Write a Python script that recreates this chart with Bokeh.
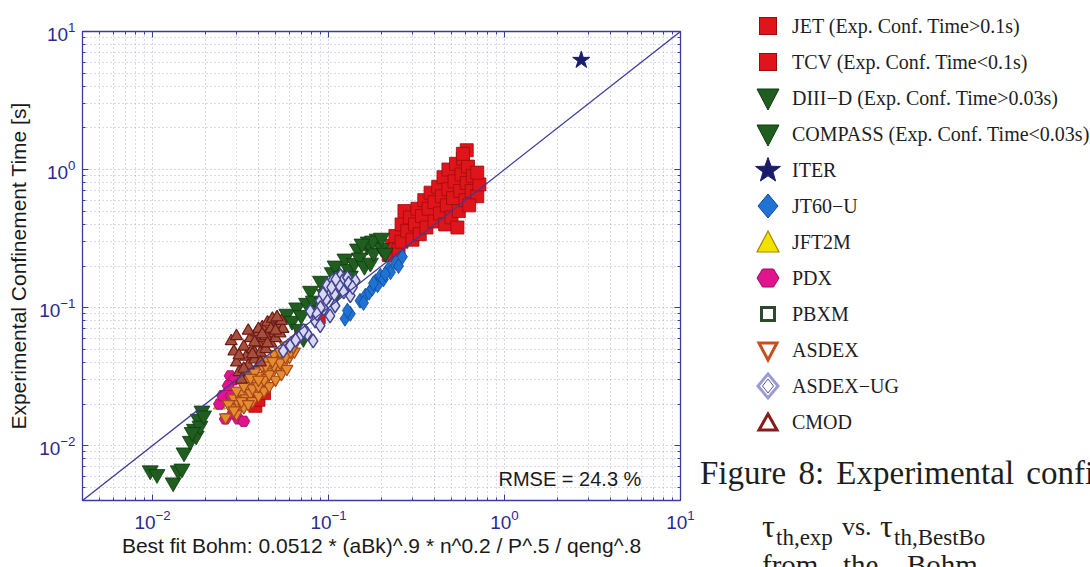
import math
from bokeh.plotting import figure
from bokeh.models import FixedTicker, LogAxis, Label, Range1d, Div
from bokeh.layouts import row
from bokeh.embed import file_html
from bokeh.resources import INLINE

# ---------------- data ----------------
jet_x = [0.22, 0.23, 0.25, 0.24, 0.26, 0.26, 0.27, 0.28, 0.29, 0.30, 0.31, 0.32, 0.33, 0.34, 0.35, 0.36,
         0.37, 0.38, 0.40, 0.40, 0.42, 0.43, 0.44, 0.45, 0.46, 0.47, 0.48, 0.48, 0.50, 0.51, 0.52, 0.53,
         0.54, 0.55, 0.56, 0.57, 0.58, 0.60, 0.61, 0.62, 0.61, 0.65, 0.66, 0.70, 0.72, 0.70, 0.63, 0.58]
jet_y = [0.24, 0.28, 0.26, 0.33, 0.30, 0.40, 0.50, 0.36, 0.45, 0.31, 0.40, 0.52, 0.34, 0.46, 0.60, 0.38,
         0.52, 0.68, 0.42, 0.58, 0.75, 0.48, 0.64, 0.88, 0.40, 0.55, 0.72, 1.00, 0.45, 0.62, 0.82, 1.10,
         0.38, 0.50, 0.70, 0.92, 1.20, 0.60, 0.80, 1.05, 1.38, 0.70, 0.90, 0.64, 0.78, 0.95, 0.55, 1.30]

tcv_x = [0.0384, 0.0400, 0.0430, 0.0520, 0.0700, 0.0880]
tcv_y = [0.0194, 0.0215, 0.0240, 0.0400, 0.0650, 0.0850]

diiid_x = [0.058, 0.062, 0.066, 0.070, 0.072, 0.075, 0.079, 0.082, 0.085, 0.090, 0.095, 0.102, 0.105,
           0.109, 0.115, 0.120, 0.124, 0.130, 0.133, 0.140, 0.146, 0.150, 0.160, 0.166, 0.173, 0.180,
           0.189, 0.200, 0.210, 0.168, 0.178, 0.068, 0.092, 0.112, 0.155, 0.200]
diiid_y = [0.090, 0.080, 0.100, 0.088, 0.060, 0.108, 0.132, 0.112, 0.095, 0.156, 0.125, 0.132, 0.180,
           0.201, 0.150, 0.170, 0.226, 0.190, 0.170, 0.210, 0.267, 0.230, 0.200, 0.280, 0.211, 0.250,
           0.315, 0.270, 0.249, 0.300, 0.305, 0.070, 0.110, 0.128, 0.290, 0.320]

compass_x = [0.0097, 0.0106, 0.0131, 0.0140, 0.0147, 0.0151, 0.0164, 0.0173, 0.0182, 0.0191, 0.0177,
             0.0186, 0.0168, 0.0195]
compass_y = [0.0066, 0.0062, 0.0054, 0.0066, 0.0068, 0.0089, 0.0108, 0.0132, 0.0156, 0.0179, 0.0118,
             0.0139, 0.0125, 0.0165]

iter_x = [2.73]
iter_y = [6.2]

jt60u_x = [0.124, 0.133, 0.128, 0.151, 0.162, 0.158, 0.170, 0.177, 0.185, 0.190, 0.197, 0.205, 0.219,
           0.225, 0.240, 0.250, 0.263, 0.180, 0.210]
jt60u_y = [0.083, 0.090, 0.095, 0.112, 0.122, 0.108, 0.128, 0.137, 0.155, 0.145, 0.170, 0.160, 0.191,
           0.180, 0.211, 0.200, 0.233, 0.150, 0.175]

jft2m_x = [0.0249, 0.0240, 0.0260]
jft2m_y = [0.0218, 0.0195, 0.0210]

pdx_x = [0.0276, 0.0290, 0.0269, 0.0307, 0.0259, 0.0330, 0.0285, 0.0240, 0.0250, 0.0280]
pdx_y = [0.0320, 0.0300, 0.0271, 0.0156, 0.0156, 0.0150, 0.0170, 0.0200, 0.0230, 0.0230]

pbxm_x = [0.036, 0.040, 0.046]
pbxm_y = [0.030, 0.034, 0.040]

asdex_x = [0.026, 0.028, 0.030, 0.029, 0.031, 0.032, 0.033, 0.034, 0.035, 0.036, 0.037, 0.038, 0.039,
           0.040, 0.041, 0.042, 0.043, 0.044, 0.045, 0.046, 0.047, 0.048, 0.050, 0.051, 0.052, 0.054,
           0.055, 0.056, 0.058, 0.059, 0.060, 0.062, 0.064, 0.066, 0.034, 0.038, 0.042, 0.030, 0.045, 0.049,
           0.027, 0.029, 0.032, 0.035, 0.037, 0.040, 0.043, 0.046, 0.049, 0.053, 0.057, 0.061, 0.063,
           0.033, 0.036, 0.040, 0.044, 0.048, 0.053, 0.057]
asdex_y = [0.016, 0.019, 0.017, 0.022, 0.020, 0.024, 0.019, 0.022, 0.027, 0.024, 0.021, 0.029, 0.026,
           0.023, 0.032, 0.028, 0.025, 0.035, 0.031, 0.027, 0.038, 0.034, 0.030, 0.042, 0.037, 0.033,
           0.046, 0.040, 0.036, 0.050, 0.044, 0.054, 0.048, 0.058, 0.030, 0.034, 0.038, 0.025, 0.042, 0.046,
           0.020, 0.018, 0.021, 0.020, 0.026, 0.027, 0.030, 0.033, 0.038, 0.040, 0.044, 0.048, 0.052,
           0.027, 0.031, 0.030, 0.038, 0.041, 0.048, 0.053]

asdexug_x = [0.0757, 0.084, 0.0897, 0.0957, 0.105, 0.117, 0.124, 0.133, 0.109, 0.102, 0.0897, 0.069,
             0.0605, 0.0553, 0.0818, 0.142, 0.0788, 0.100, 0.112, 0.094, 0.120, 0.128, 0.098, 0.108,
             0.090, 0.097, 0.104, 0.115, 0.122, 0.093, 0.086, 0.110, 0.130, 0.137, 0.072, 0.065]
asdexug_y = [0.0646, 0.080, 0.112, 0.132, 0.156, 0.170, 0.144, 0.122, 0.103, 0.087, 0.074, 0.0625,
             0.0529, 0.0486, 0.0574, 0.156, 0.094, 0.120, 0.135, 0.098, 0.155, 0.165, 0.145, 0.125,
             0.100, 0.115, 0.140, 0.145, 0.130, 0.125, 0.090, 0.160, 0.150, 0.140, 0.068, 0.058]

cmod_x = [0.028, 0.029, 0.030, 0.031, 0.032, 0.033, 0.034, 0.035, 0.036, 0.037, 0.038, 0.039, 0.040,
          0.041, 0.042, 0.043, 0.044, 0.045, 0.046, 0.047, 0.048, 0.049, 0.050, 0.052, 0.053, 0.055,
          0.035, 0.030, 0.040, 0.031, 0.033, 0.037, 0.041, 0.044, 0.047, 0.050, 0.054, 0.051, 0.045,
          0.038, 0.042]
cmod_y = [0.057, 0.048, 0.040, 0.034, 0.030, 0.052, 0.044, 0.038, 0.060, 0.050, 0.042, 0.066, 0.055,
          0.047, 0.072, 0.060, 0.050, 0.078, 0.065, 0.055, 0.083, 0.070, 0.060, 0.075, 0.065, 0.070,
          0.068, 0.062, 0.070, 0.045, 0.036, 0.046, 0.040, 0.062, 0.070, 0.068, 0.080, 0.085, 0.055,
          0.056, 0.064]

diag_x = [0.004, 10]
diag_y = [0.004, 10]

major_ticks = [0.01, 0.1, 1, 10]
minor_ticks = [m * d for d in (0.001, 0.01, 0.1, 1) for m in range(2, 10) if m * d >= 0.004]

legend_labels = ["JET (Exp. Conf. Time&gt;0.1s)", "TCV (Exp. Conf. Time&lt;0.1s)",
                 "DIII\u2212D (Exp. Conf. Time&gt;0.03s)", "COMPASS (Exp. Conf. Time&lt;0.03s)",
                 "ITER", "JT60\u2212U", "JFT2M", "PDX", "PBXM", "ASDEX", "ASDEX\u2212UG", "CMOD"]
rmse_text = "RMSE = 24.3 %"

# ---------------- styles ----------------
FRAME = "#3b3b9c"
TICKC = "#2a2a8e"
GRIDC = "#6a6ab4"
RED, RED_E = "#e0151b", "#9a0c0c"
GREEN, GREEN_E = "#1f5e1f", "#0f3a0f"
NAVY = "#1b1b6b"
BLUE, BLUE_E = "#1f72d4", "#0d4a9a"
YEL, YEL_E = "#f2e200", "#a88400"
MAG, MAG_E = "#e0148c", "#a00a60"
PB_E = "#2e4a2e"
ORG, ORG_E = "#e58c30", "#a8481a"
LAV, LAV_E = "#d8d8f2", "#45458f"
MAR, MAR_E = "#a5503c", "#6e1a14"

p = figure(x_axis_type="log", y_axis_type="log",
           x_range=Range1d(0.004, 10), y_range=Range1d(0.004, 10),
           frame_width=598, frame_height=469,
           min_border_left=82, min_border_right=20, min_border_top=31, min_border_bottom=67,
           output_backend="svg", toolbar_location=None,
           background_fill_color="white", border_fill_color="white")

tick = FixedTicker(ticks=major_ticks, minor_ticks=minor_ticks)
p.xaxis.ticker = tick
p.yaxis.ticker = tick
p.xgrid.ticker = tick
p.ygrid.ticker = tick

for ax in [p.xaxis[0], p.yaxis[0]]:
    ax.axis_line_color = FRAME
    ax.major_tick_line_color = FRAME
    ax.minor_tick_line_color = FRAME
    ax.major_tick_in = 6
    ax.major_tick_out = 0
    ax.minor_tick_in = 3
    ax.minor_tick_out = 0
    ax.major_label_text_font = "Liberation Sans"
    ax.major_label_text_font_size = "19px"
    ax.major_label_text_color = TICKC
    ax.axis_label_text_font = "Liberation Sans"
    ax.axis_label_text_font_size = "21px"
    ax.axis_label_text_font_style = "normal"
    ax.axis_label_text_color = "#1a1a1a"

p.xaxis.axis_label = "Best fit Bohm: 0.0512 * (aBk)^.9 * n^0.2 / P^.5 / qeng^.8"
p.yaxis.axis_label = "Experimental Confinement Time [s]"
p.xaxis.major_label_standoff = 9
p.xaxis.axis_label_standoff = 2
p.yaxis.major_label_standoff = 7
p.yaxis.axis_label_standoff = 6

for loc in ("above", "right"):
    a = LogAxis(ticker=tick, axis_line_color=FRAME, major_tick_line_color=FRAME,
                minor_tick_line_color=FRAME, major_tick_in=6, major_tick_out=0,
                minor_tick_in=3, minor_tick_out=0, major_label_text_color=None,
                major_label_text_font_size="1px")
    p.add_layout(a, loc)

p.outline_line_color = FRAME
p.outline_line_width = 1.3

for g in [p.xgrid[0], p.ygrid[0]]:
    g.grid_line_color = GRIDC
    g.grid_line_dash = "1 3"
    g.grid_line_alpha = 0.6
    g.minor_grid_line_color = GRIDC
    g.minor_grid_line_dash = "1 3"
    g.minor_grid_line_alpha = 0.5

p.scatter(jet_x, jet_y, marker="square", size=13, fill_color=RED, line_color=RED_E, line_width=0.8)
p.scatter(tcv_x, tcv_y, marker="square", size=13, fill_color=RED, line_color=RED_E, line_width=0.8)
p.scatter(diiid_x, diiid_y, marker="inverted_triangle", size=16, fill_color=GREEN, line_color=GREEN_E, line_width=0.8)
p.scatter(compass_x, compass_y, marker="inverted_triangle", size=16, fill_color=GREEN, line_color=GREEN_E, line_width=0.8)
p.scatter(iter_x, iter_y, marker="star", size=18, fill_color=NAVY, line_color=NAVY)
p.scatter(jt60u_x, jt60u_y, marker="diamond", size=15, fill_color=BLUE, line_color=BLUE_E, line_width=0.8)
p.scatter(jft2m_x, jft2m_y, marker="triangle", size=12, fill_color=YEL, line_color=YEL_E, line_width=1)
p.scatter(pdx_x, pdx_y, marker="hex", size=12, fill_color=MAG, line_color=MAG_E, line_width=0.8)
p.scatter(pbxm_x, pbxm_y, marker="square", size=11, fill_color="white", line_color=PB_E, line_width=2)
p.scatter(asdex_x, asdex_y, marker="inverted_triangle", size=12, fill_color=ORG, line_color=ORG_E, line_width=1.2)
p.scatter(asdexug_x, asdexug_y, marker="diamond", size=14, fill_color=LAV, line_color=LAV_E, line_width=1.5)
p.scatter(cmod_x, cmod_y, marker="triangle", size=12, fill_color=MAR, line_color=MAR_E, line_width=1.2)

p.line(diag_x, diag_y, line_color=FRAME, line_width=1.3)

p.add_layout(Label(x=416, y=22, x_units="screen", y_units="screen", text=rmse_text,
                   text_font="Liberation Sans", text_font_size="20px", text_color="#1a1a1a",
                   text_baseline="middle", text_align="left"))

# ---------------- side panel: legend + caption (HTML) ----------------
def poly(pts, fill, stroke, sw):
    s = " ".join(f"{a:.1f},{b:.1f}" for a, b in pts)
    return f'<polygon points="{s}" fill="{fill}" stroke="{stroke}" stroke-width="{sw}" stroke-linejoin="miter"/>'

star_pts = []
for k in range(10):
    r = 13 if k % 2 == 0 else 5.3
    ang = -math.pi / 2 + k * math.pi / 5
    star_pts.append((15 + r * math.cos(ang), 15.5 + r * math.sin(ang)))

marker_svgs = [
    f'<rect x="6.5" y="6.5" width="17" height="17" fill="{RED}" stroke="{RED_E}" stroke-width="1"/>',
    f'<rect x="6.5" y="6.5" width="17" height="17" fill="{RED}" stroke="{RED_E}" stroke-width="1"/>',
    poly([(4, 6), (26, 6), (15, 27)], GREEN, GREEN_E, 1),
    poly([(4, 6), (26, 6), (15, 27)], GREEN, GREEN_E, 1),
    poly(star_pts, NAVY, NAVY, 1),
    poly([(15, 3), (25, 15), (15, 27), (5, 15)], BLUE, BLUE_E, 1),
    poly([(15, 4), (26, 25), (4, 25)], YEL, YEL_E, 1.2),
    poly([(4, 15), (9.5, 6), (20.5, 6), (26, 15), (20.5, 24), (9.5, 24)], MAG, MAG_E, 1),
    f'<rect x="8.5" y="8.5" width="13" height="13" fill="white" stroke="{PB_E}" stroke-width="3"/>',
    poly([(6, 8), (24, 8), (15, 25)], "white", "#c8501e", 3),
    poly([(15, 3), (25, 15), (15, 27), (5, 15)], "white", "#9c9cd4", 3)
    + poly([(15, 8), (20.5, 15), (15, 22), (9.5, 15)], "none", "#55559a", 1),
    poly([(15, 7), (24, 23), (6, 23)], "white", "#8b1a1a", 3),
]

parts = ['<div style="position:relative;width:390px;height:567px;overflow:hidden;background:white;'
         'font-family:\'Liberation Serif\';color:#1e1e1e;">']
for i, (lab, svg) in enumerate(zip(legend_labels, marker_svgs)):
    cy = 26 + 36 * i
    parts.append(f'<svg width="30" height="30" style="position:absolute;left:53px;top:{cy - 15}px">{svg}</svg>')
    parts.append(f'<span style="position:absolute;left:92px;top:{cy - 10}px;font-size:20px;'
                 f'line-height:20px;white-space:nowrap">{lab}</span>')

def span(x, top, size, txt, extra=""):
    return (f'<span style="position:absolute;left:{x}px;top:{top}px;font-size:{size}px;'
            f'line-height:{size}px;white-space:nowrap;{extra}">{txt}</span>')

parts.append(span(0, 457, 33, "Figure 8: Experimental confi", "word-spacing:4px"))
parts.append(span(62, 510, 32, "\u03c4"))
parts.append(span(76, 526, 23, "th,exp"))
parts.append(span(142, 514, 26, "vs."))
parts.append(span(180, 510, 32, "\u03c4"))
parts.append(span(194, 526, 23, "th,BestBo"))
parts.append(span(62, 551, 29, "from"))
parts.append(span(143, 551, 29, "the"))
parts.append(span(207, 551, 29, "Bohm"))
parts.append('</div>')

side = Div(text="".join(parts), width=390, height=567, margin=0)

layout = row(p, side)
open("out.html", "w").write(file_html(layout, INLINE))
